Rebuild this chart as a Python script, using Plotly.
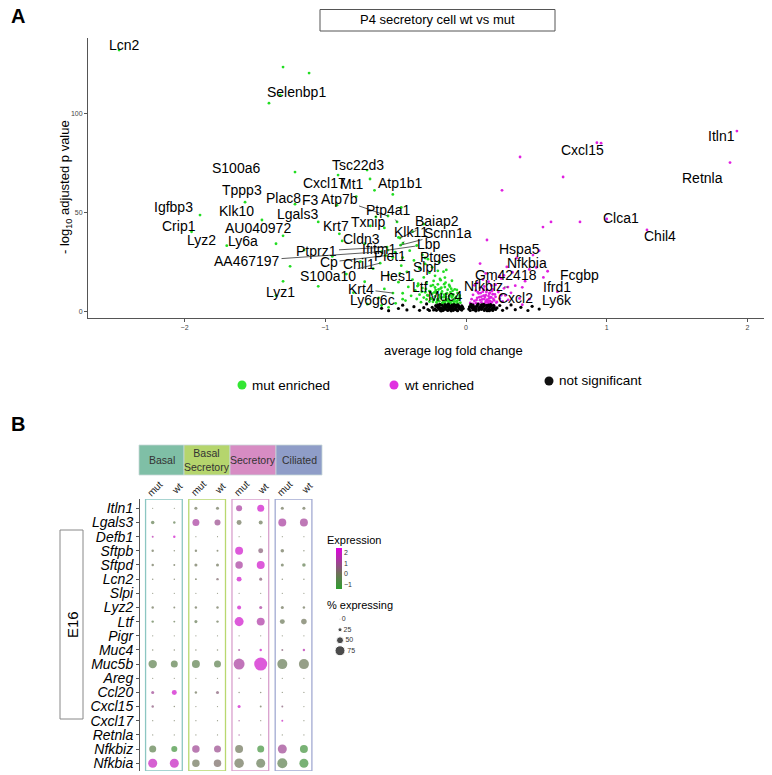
import plotly.graph_objects as go

OFF = 8                      # default page body margin
W, H = 764, 767              # figure size placed after the body margin
FONT = "Liberation Sans"


def px(v):
    return (v - OFF) / W


def py(v):
    return 1 - (v - OFF) / H


# ---------------- Panel A data ----------------
genes = ["Lcn2", "Selenbp1", "S100a6", "Tsc22d3", "Cxcl17", "Mt1", "Atp1b1", "Tppp3", "Plac8", "F3",
         "Atp7b", "Igfbp3", "Klk10", "Lgals3", "Ptp4a1", "Crip1", "AU040972", "Krt7", "Txnip", "Baiap2",
         "Klk11", "Scnn1a", "Lyz2", "Ly6a", "Cldn3", "Lbp", "Ptprz1", "Ifitm1", "AA467197", "Cp",
         "Chil1", "Plet1", "Ptges", "Slpi", "S100a10", "Hes1", "Lyz1", "Krt4", "Ltf", "Ly6g6c", "Muc4",
         "Itln1", "Cxcl15", "Retnla", "Clca1", "Chil4", "Hspa5", "Nfkbia", "Gm42418", "Fcgbp", "Nfkbiz",
         "Ifrd1", "Cxcl2", "Ly6k"]
gene_fc = [-2.465, -1.32, -1.215, -0.703, -0.909, -0.682, -0.65, -1.57, -1.215, -0.917,
           -0.554, -1.89, -1.45, -1.05, -0.49, -1.95, -1.30, -0.90, -0.68, -0.469,
           -0.448, -0.465, -1.70, -1.35, -0.72, -0.554, -0.561, -0.504, -0.60, -0.57,
           -0.75, -0.45, -0.29, -0.33, -0.61, -0.47, -1.30, -0.519, -0.34, -0.45, -0.20,
           1.925, 0.93, 1.876, 1.00, 1.286, 0.476, 0.50, 0.27, 0.55, 0.298,
           0.40, 0.25, 0.45]
gene_p = [131.8, 109.0, 70.2, 71.2, 68.7, 66.7, 61.0, 55.0, 54.0, 53.5,
          48.0, 48.5, 46.0, 45.0, 45.0, 40.0, 38.0, 39.0, 43.0, 36.9,
          34.3, 33.3, 33.0, 34.0, 34.0, 30.8, 32.3, 29.8, 30.0, 28.0,
          25.0, 27.0, 26.8, 22.0, 24.2, 19.0, 15.0, 9.1, 13.0, 6.0, 6.0,
          90.9, 85.0, 75.0, 46.5, 41.0, 28.3, 22.0, 18.0, 17.0, 12.1,
          12.0, 8.0, 6.0]
label_fc = [-2.43, -1.208, -1.634, -0.767, -1.009, -0.81, -0.462, -1.591, -1.30, -1.108,
            -0.902, -2.075, -1.634, -1.20, -0.554, -2.039, -1.478, -0.924, -0.696, -0.206,
            -0.391, -0.128, -1.883, -1.584, -0.746, -0.263, -1.059, -0.618, -1.556, -0.973,
            -0.76, -0.54, -0.199, -0.298, -0.98, -0.497, -1.321, -0.746, -0.327, -0.661, -0.149,
            1.812, 0.831, 1.684, 1.101, 1.378, 0.377, 0.433, 0.284, 0.81, 0.121,
            0.647, 0.355, 0.647]
label_p = [134.3, 110.6, 72.2, 73.7, 64.6, 64.1, 64.6, 61.1, 57.1, 56.1,
           56.6, 52.5, 50.5, 49.0, 51.0, 42.9, 41.9, 42.9, 44.9, 45.5,
           39.9, 39.4, 35.9, 35.4, 36.4, 33.8, 30.3, 31.3, 25.3, 24.7,
           23.7, 27.8, 27.3, 22.2, 17.7, 17.7, 9.6, 11.1, 12.1, 5.6, 7.6,
           88.4, 81.3, 67.2, 47.0, 37.9, 31.3, 24.2, 18.2, 18.2, 12.6,
           12.1, 6.6, 5.6]
linked = {"Atp7b", "Ptp4a1", "Baiap2", "Klk11", "Scnn1a", "Lbp", "Ptprz1", "Ifitm1",
          "AA467197", "Cp", "S100a10", "Krt4", "Nfkbiz", "Ptges"}

mut_fc = [-0.04, -0.05, -0.06, -0.07, -0.07, -0.08, -0.09, -0.09, -0.10, -0.10, -0.11, -0.11, -0.12, -0.12,
          -0.13, -0.13, -0.14, -0.14, -0.15, -0.15, -0.16, -0.16, -0.17, -0.17, -0.18, -0.18, -0.19, -0.19,
          -0.20, -0.20, -0.21, -0.21, -0.22, -0.22, -0.23, -0.23, -0.24, -0.25, -0.25, -0.26, -0.26, -0.27,
          -0.28, -0.28, -0.29, -0.30, -0.30, -0.31, -0.32, -0.33, -0.34, -0.35, -0.36, -0.38, -0.39, -0.41,
          -0.43, -0.45, -0.48, -0.50, -0.26, -0.22, -0.18, -0.15, -0.12, -0.33, -0.29, -0.24, -0.20, -0.37,
          -0.42, -0.46, -0.31, -0.27, -0.19, -0.16, -0.40, -0.35, -0.52, -0.55, -0.58, -0.62, -0.66, -0.72,
          -0.80, -0.85, -0.95, -1.05, -1.15, -0.48, -0.58, -0.64, -0.38, -0.30, -0.46, -0.78, -0.52, -0.88,
          -1.25, -0.70, -0.60, -0.55, -0.14, -0.10, -0.08, -0.06, -1.35, -1.30, -1.115, -1.40,
          -0.115, -0.085, -0.135, -0.165, -0.205, -0.235, -0.075, -0.105, -0.145, -0.175, -0.215, -0.055,
          -0.045, -0.065, -0.095, -0.125, -0.155, -0.185, -0.225, -0.245, -0.275, -0.095, -0.135, -0.175,
          -0.215, -0.255, -0.115, -0.155, -0.195, -0.235, -0.065, -0.285, -0.315, -0.345, -0.125, -0.205,
          -0.165, -0.085, -0.045, -0.105, -0.145, -0.185]
mut_p = [4.2, 5.8, 3.9, 7.1, 4.8, 6.2, 3.6, 8.4, 5.1, 6.9, 4.0, 9.6, 7.5, 5.4,
         3.8, 10.8, 6.3, 8.7, 4.6, 12.1, 7.0, 5.2, 9.9, 3.7, 6.6, 11.4, 8.1, 4.9,
         13.5, 6.0, 9.2, 4.3, 7.4, 11.9, 5.6, 15.2, 8.8, 6.4, 12.7, 4.8, 10.1, 7.8,
         14.3, 5.9, 9.5, 6.8, 17.0, 11.6, 4.5, 8.3, 13.8, 6.1, 10.4, 15.9, 7.7, 12.2,
         5.3, 9.0, 14.6, 3.9, 19.4, 17.8, 15.6, 16.9, 13.2, 21.5, 23.8, 22.1, 20.3, 25.6,
         19.8, 22.9, 28.4, 26.2, 24.7, 19.9, 30.5, 33.1, 27.0, 18.3, 11.2, 6.7, 21.4, 14.8,
         9.3, 18.7, 27.6, 12.5, 30.8, 37.2, 42.0, 47.5, 40.1, 43.9, 52.3, 57.8, 58.9, 35.4,
         22.6, 3.5, 2.8, 1.9, 20.8, 15.3, 11.0, 9.1, 7.8, 123.2, 120.2, 105.0,
         4.5, 4.9, 5.3, 4.4, 5.0, 4.7, 6.6, 8.0, 7.2, 8.9, 9.8, 5.5,
         6.9, 5.1, 7.6, 6.0, 8.3, 7.1, 9.4, 6.2, 8.0, 10.2, 9.0, 11.8,
         10.6, 9.9, 12.4, 13.6, 10.9, 13.1, 10.7, 11.2, 9.7, 12.6, 4.9, 5.7,
         4.1, 3.9, 7.9, 11.3, 14.4, 16.2]

wt_fc = [0.03, 0.04, 0.05, 0.05, 0.06, 0.07, 0.07, 0.08, 0.09, 0.09, 0.10, 0.10, 0.11, 0.11, 0.12, 0.12,
         0.13, 0.13, 0.14, 0.14, 0.15, 0.15, 0.16, 0.16, 0.17, 0.17, 0.18, 0.18, 0.19, 0.19, 0.20, 0.21,
         0.22, 0.23, 0.24, 0.26, 0.28, 0.30, 0.08, 0.12, 0.16, 0.21, 0.25, 0.06, 0.27, 0.32, 0.35, 0.38,
         0.42, 0.33, 0.45, 0.14, 0.10, 0.149, 0.256, 0.384, 0.69, 0.604, 0.547, 0.52, 0.36, 0.29, 0.58,
         0.65, 0.20, 0.11, 0.40, 0.24, 0.18, 0.81, 0.96, 0.145, 0.165, 0.125, 0.185, 0.105,
         0.135, 0.155, 0.175, 0.115, 0.095, 0.075, 0.195, 0.215, 0.145, 0.165, 0.125, 0.185, 0.155,
         0.135, 0.175, 0.205, 0.085]
wt_p = [4.1, 6.0, 3.6, 8.2, 5.1, 4.0, 10.3, 6.7, 3.8, 8.9, 5.5, 11.6, 4.4, 7.3, 9.8, 3.5,
        6.1, 12.4, 4.7, 8.1, 10.7, 5.8, 3.9, 7.6, 9.3, 5.0, 6.9, 4.2, 8.5, 11.0, 5.4, 7.2,
        4.6, 9.6, 6.3, 4.9, 7.9, 5.7, 14.2, 15.9, 14.8, 13.3, 16.4, 13.0, 11.5, 9.2, 12.8, 6.4,
        15.1, 19.6, 21.0, 19.0, 24.0, 35.9, 61.0, 77.8, 67.7, 45.0, 42.4, 30.5, 26.8, 22.3, 20.1,
        9.8, 2.8, 2.5, 3.2, 17.8, 12.9, 45.0, 84.8, 5.2, 6.4, 7.8, 4.6, 9.1,
        3.9, 4.4, 4.0, 5.9, 7.0, 5.6, 6.1, 4.3, 9.6, 8.8, 10.9, 10.1, 5.3,
        7.2, 7.0, 8.4, 9.5]

ns_fc = [-0.22, -0.21, -0.21, -0.20, -0.20, -0.19, -0.19, -0.18, -0.18, -0.17, -0.17, -0.16, -0.16,
         -0.15, -0.15, -0.14, -0.14, -0.13, -0.13, -0.12, -0.12, -0.11, -0.11, -0.10, -0.10, -0.09,
         -0.09, -0.08, -0.08, -0.07, -0.07, -0.06, -0.06, -0.05, -0.05, -0.04, -0.04, -0.03, -0.03,
         -0.02, -0.23, -0.24, -0.26, -0.185, -0.145, -0.105, -0.065, -0.125, -0.085, -0.175,
         -0.195, -0.155, -0.115, -0.075, -0.035, -0.215, -0.165, -0.135, -0.095, -0.055, -0.025,
         0.02, 0.03, 0.03, 0.04, 0.05, 0.05, 0.06, 0.07, 0.07, 0.08, 0.09, 0.09, 0.10, 0.11, 0.11,
         0.12, 0.13, 0.13, 0.14, 0.15, 0.15, 0.16, 0.16, 0.17, 0.17, 0.18, 0.19, 0.19, 0.20, 0.21,
         0.22, 0.035, 0.085, 0.125, 0.065, 0.105, 0.145, 0.185, 0.055, 0.175,
         0.045, 0.075, 0.095, 0.115, 0.135, 0.155, 0.165, 0.195, 0.025, 0.205,
         -0.55, -0.48, -0.42, -0.37, -0.33, -0.30, -0.28, -0.27, 0.24, 0.26, 0.29, 0.32, 0.35,
         0.39, 0.44, 0.47, 0.52, -0.60, -0.45]
ns_p = [1.1, 2.4, 0.4, 1.8, 3.1, 0.9, 2.6, 1.5, 0.2, 2.9, 1.0, 2.1, 0.5,
        3.3, 1.4, 0.8, 2.5, 1.9, 0.3, 2.8, 1.2, 0.6, 2.2, 3.0, 1.6, 0.4,
        2.0, 1.1, 2.7, 0.7, 1.8, 3.2, 0.2, 1.4, 2.4, 0.9, 1.9, 0.5, 2.6,
        1.3, 0.6, 1.9, 0.3, 3.4, 3.0, 0.1, 2.3, 3.5, 3.3, 0.1,
        1.6, 2.0, 1.3, 2.9, 1.7, 2.8, 0.4, 2.2, 0.9, 3.0, 2.0,
        1.0, 2.3, 0.3, 1.7, 3.0, 0.7, 2.0, 1.2, 0.1, 2.7, 1.5, 0.5, 2.3, 0.9, 3.2,
        1.8, 0.4, 2.6, 1.3, 0.2, 2.1, 3.0, 1.0, 1.9, 0.6, 2.5, 1.4, 0.3, 2.2, 0.8,
        1.6, 3.4, 3.5, 3.4, 0.6, 1.6, 2.9, 0.9, 1.5, 3.3,
        2.6, 2.4, 0.9, 2.0, 1.0, 2.7, 0.2, 2.9, 2.1, 1.3,
        0.2, 1.3, 0.6, 2.2, 0.4, 1.7, 3.6, 0.8, 2.8, 0.4, 1.5, 3.1, 0.7,
        1.9, 0.3, 2.4, 1.0, 1.4, 3.0]

x_ticks = [-2, -1, 0, 1, 2]
y_ticks = [0, 50, 100]

# ---------------- Panel B data ----------------
dot_genes = ["Itln1", "Lgals3", "Defb1", "Sftpb", "Sftpd", "Lcn2", "Slpi", "Lyz2", "Ltf", "Pigr",
             "Muc4", "Muc5b", "Areg", "Ccl20", "Cxcl15", "Cxcl17", "Retnla", "Nfkbiz", "Nfkbia"]
cell_types = ["Basal", "Basal<br>Secretory", "Secretory", "Ciliated"]
genotypes = ["mut", "wt"]
pct_expr = [
    [1, 1, 17, 17, 42, 50, 17, 17],
    [21, 12, 50, 42, 33, 25, 58, 58],
    [8, 12, 1, 1, 1, 1, 1, 1],
    [12, 4, 12, 8, 58, 33, 21, 4],
    [12, 8, 17, 17, 54, 58, 17, 21],
    [4, 4, 8, 12, 33, 17, 4, 4],
    [2, 2, 2, 2, 2, 2, 2, 2],
    [12, 8, 12, 12, 25, 17, 17, 12],
    [12, 8, 17, 12, 67, 58, 33, 38],
    [2, 2, 2, 2, 2, 2, 2, 2],
    [4, 4, 4, 4, 8, 12, 8, 12],
    [62, 50, 58, 50, 83, 100, 75, 75],
    [2, 2, 2, 2, 4, 2, 2, 2],
    [17, 33, 12, 17, 4, 4, 2, 2],
    [12, 4, 2, 2, 17, 8, 8, 2],
    [2, 2, 2, 2, 4, 2, 8, 2],
    [2, 2, 2, 2, 4, 2, 2, 2],
    [50, 42, 54, 50, 58, 50, 67, 58],
    [67, 67, 54, 54, 71, 67, 75, 67],
]
avg_expr = [
    [0, 0, 0, 0, 1.2, 2.0, 0, 0],
    [-0.3, -0.3, 1.2, 0.9, 0, -0.1, 1.2, 1.1],
    [1.5, 2.0, 0, 0, 0, 0, 0, 0],
    [0, 0, 0, 0, 2.0, 0.5, 0, 0],
    [0, 0, 0, 0, 1.2, 2.0, -0.1, -0.3],
    [0, 0, 0, 0.3, 2.0, 0.5, 0, 0],
    [0, 0, 0, 0, 0, 0, 0, 0],
    [0, 0, 0, 0, 2.0, 1.2, 0, 0],
    [-0.3, -0.2, -0.2, -0.1, 2.0, 1.3, -0.1, 0],
    [0, 0, 0, 0, 0, 0, 0, 0],
    [0, 0, 0, 0, 1.0, 2.0, 0.5, 1.5],
    [-0.4, -0.4, -0.4, -0.4, 1.2, 2.0, -0.2, -0.1],
    [0, 0, 0, 0, 0.8, 0.3, 0, 0],
    [1.0, 2.0, 0, 0.5, 0, 0, 0, 0],
    [0.6, 0, 0, 0, 2.0, 0, 0.5, 0],
    [0, 0, 0, 0, 1.0, 0, 1.8, 0],
    [0, 0, 0, 0, 1.0, 0, 0, 0],
    [-0.4, -1.0, 1.0, 0.9, 0, -1.0, 1.0, -1.0],
    [1.8, 1.8, 0, 0.2, 0, -0.2, -0.4, -1.0],
]
size_legend = [0, 25, 50, 75]
expr_ticks = [-1, 0, 1, 2]

header_fill = ["#7fbfa6", "#b5d56d", "#d78cc3", "#8f9dc8"]
box_line = ["#8cc6c2", "#b8d86f", "#d9a0cd", "#a2aad2"]


def dot_size(p):
    return 1 + 0.12 * p


fig = go.Figure()

# ---------------- Panel A traces ----------------
lab_mut = [i for i in range(len(genes)) if gene_fc[i] < 0]
lab_wt = [i for i in range(len(genes)) if gene_fc[i] > 0]
fig.add_trace(go.Scatter(
    x=mut_fc + [gene_fc[i] for i in lab_mut], y=mut_p + [gene_p[i] for i in lab_mut],
    mode="markers", marker=dict(color="#22dd22", size=2.8), showlegend=False,
    xaxis="x", yaxis="y", hoverinfo="skip"))
fig.add_trace(go.Scatter(
    x=wt_fc + [gene_fc[i] for i in lab_wt], y=wt_p + [gene_p[i] for i in lab_wt],
    mode="markers", marker=dict(color="#e020e0", size=2.8), showlegend=False,
    xaxis="x", yaxis="y", hoverinfo="skip"))
fig.add_trace(go.Scatter(
    x=ns_fc, y=ns_p, mode="markers", marker=dict(color="#000000", size=3.2),
    showlegend=False, xaxis="x", yaxis="y", hoverinfo="skip"))

annotations = []
for i, g in enumerate(genes):
    if g in linked:
        annotations.append(dict(
            x=gene_fc[i], y=gene_p[i], xref="x", yref="y",
            ax=label_fc[i], ay=label_p[i], axref="x", ayref="y",
            text=g, showarrow=True, arrowhead=0, arrowwidth=0.8, arrowcolor="#333333",
            standoff=0, startstandoff=0, xanchor="center", yanchor="middle",
            font=dict(family=FONT, size=14, color="black")))
    else:
        annotations.append(dict(
            x=label_fc[i], y=label_p[i], xref="x", yref="y", text=g, showarrow=False,
            xanchor="center", yanchor="middle",
            font=dict(family=FONT, size=14, color="black")))

# ---------------- Panel B traces ----------------
dx, dy, ds, dc = [], [], [], []
for r in range(len(dot_genes)):
    for c in range(len(cell_types) * len(genotypes)):
        dx.append(c)
        dy.append(r)
        ds.append(dot_size(pct_expr[r][c]))
        dc.append(avg_expr[r][c])
fig.add_trace(go.Scatter(
    x=dx, y=dy, mode="markers", xaxis="x2", yaxis="y2", showlegend=False,
    marker=dict(size=ds, color=dc, coloraxis="coloraxis", line=dict(width=0)),
    hoverinfo="skip"))

# size legend
fig.add_trace(go.Scatter(
    x=[0] * len(size_legend), y=list(range(len(size_legend))),
    mode="markers+text", text=[str(v) for v in size_legend], textposition="middle right",
    textfont=dict(family=FONT, size=7, color="#333333"),
    marker=dict(size=[dot_size(v) for v in size_legend], color="black"),
    xaxis="x3", yaxis="y3", showlegend=False, hoverinfo="skip"))


def ann(x, y, text, size, **kw):
    d = dict(x=px(x), y=py(y), xref="paper", yref="paper", text=text, showarrow=False,
             xanchor="center", yanchor="middle", font=dict(family=FONT, size=size, color="black"))
    d.update(kw)
    return d


shapes = []
ncol = len(cell_types) * len(genotypes)
# group boxes
for k in range(len(cell_types)):
    c0 = k * 2
    shapes.append(dict(type="rect", xref="x2", yref="y2", x0=c0 - 0.33, x1=c0 + 1.37,
                       y0=-0.66, y1=18.55,
                       line=dict(color=box_line[k], width=1.3), fillcolor="rgba(0,0,0,0)"))
# header boxes
edges = [139, 184, 230, 276, 322]
for k, name in enumerate(cell_types):
    shapes.append(dict(type="rect", xref="paper", yref="paper",
                       x0=px(edges[k]), x1=px(edges[k + 1]), y0=py(475), y1=py(445),
                       line=dict(color="#c8d8d8", width=0.8), fillcolor=header_fill[k], layer="below"))
    annotations.append(ann((edges[k] + edges[k + 1]) / 2, 460, name, 10.5,
                           font=dict(family=FONT, size=10.5, color="#333333")))
# column labels
for c in range(ncol):
    annotations.append(dict(x=c + 0.1, y=py(488), xref="x2", yref="paper", text=genotypes[c % 2],
                            textangle=-45, showarrow=False, xanchor="center", yanchor="middle",
                            font=dict(family=FONT, size=10, color="#222222")))
# E16 box
shapes.append(dict(type="rect", xref="paper", yref="paper", x0=px(60), x1=px(83), y0=py(719), y1=py(530),
                   line=dict(color="#888888", width=1)))
annotations.append(ann(72, 625, "E16", 15, textangle=-90))

# legend for panel A
leg = [("mut enriched", "#33e633", 242, 385), ("wt enriched", "#e030e0", 394, 385),
       ("not significant", "#111111", 549, 381)]
for name, col, lx, ly in leg:
    r = 4.5
    shapes.append(dict(type="circle", xref="paper", yref="paper", x0=px(lx - r), x1=px(lx + r),
                       y0=py(ly + r), y1=py(ly - r), fillcolor=col, line=dict(width=0)))
    annotations.append(ann(lx + 8, ly, name, 13.5, xanchor="left"))

# title box
shapes.append(dict(type="rect", xref="paper", yref="paper", x0=px(320), x1=px(555), y0=py(31), y1=py(9.5),
                   line=dict(color="#555555", width=1), fillcolor="white"))

# titles, labels
annotations += [
    ann(9, 16, "<b>A</b>", 20, xanchor="left"),
    ann(9, 424, "<b>B</b>", 20, xanchor="left"),
    ann(437, 20, "P4 secretory cell wt vs mut", 13),
    ann(65, 187, "- log<sub>10</sub> adjusted p value", 13, textangle=-90),
    ann(453, 350, "average log fold change", 13),
    ann(325, 540, "Expression", 11, xanchor="left"),
    ann(325, 605, "% expressing", 11, xanchor="left"),
]

axis_common = dict(showgrid=False, zeroline=False, showline=True, linecolor="#555555", linewidth=1,
                   ticks="outside", ticklen=3, tickcolor="#555555",
                   tickfont=dict(family=FONT, size=7, color="#444444"))

fig.update_layout(
    width=W, height=H, margin=dict(l=0, r=0, t=0, b=0),
    paper_bgcolor="white", plot_bgcolor="white", showlegend=False,
    xaxis=dict(domain=[px(88), px(768)], range=[-2.686, 2.146], tickvals=x_ticks,
               anchor="y", **axis_common),
    yaxis=dict(domain=[py(318), py(38)], range=[-3.5, 137.9], tickvals=y_ticks,
               anchor="x", **axis_common),
    xaxis2=dict(domain=[px(140), px(320)], range=[-0.588, 7.745], visible=False, anchor="y2"),
    yaxis2=dict(domain=[py(771), py(499)], range=[18.55, -0.66],
                tickvals=list(range(len(dot_genes))),
                ticktext=["<i>%s</i>" % g for g in dot_genes], anchor="x2",
                showgrid=False, zeroline=False, showline=True, linecolor="#555555", linewidth=1,
                ticks="outside", ticklen=3, tickcolor="#555555",
                tickfont=dict(family=FONT, size=14, color="black")),
    xaxis3=dict(domain=[px(335), px(380)], range=[-0.5, 4], visible=False, anchor="y3"),
    yaxis3=dict(domain=[py(656), py(614)], range=[3.5, -0.5], visible=False, anchor="x3"),
    coloraxis=dict(
        cmin=-1.4, cmax=2.4,
        colorscale=[[0, "#2e9e2e"], [0.368, "#6d7358"], [1, "#e100e1"]],
        colorbar=dict(x=px(336), xanchor="left", y=py(548), yanchor="top", len=41, lenmode="pixels",
                      thickness=6, thicknessmode="pixels", xpad=0, ypad=0, outlinewidth=0,
                      tickvals=expr_ticks, ticks="",
                      tickfont=dict(family=FONT, size=7, color="#333333"))),
    shapes=shapes, annotations=annotations,
)

fig.write_html("out.html")
